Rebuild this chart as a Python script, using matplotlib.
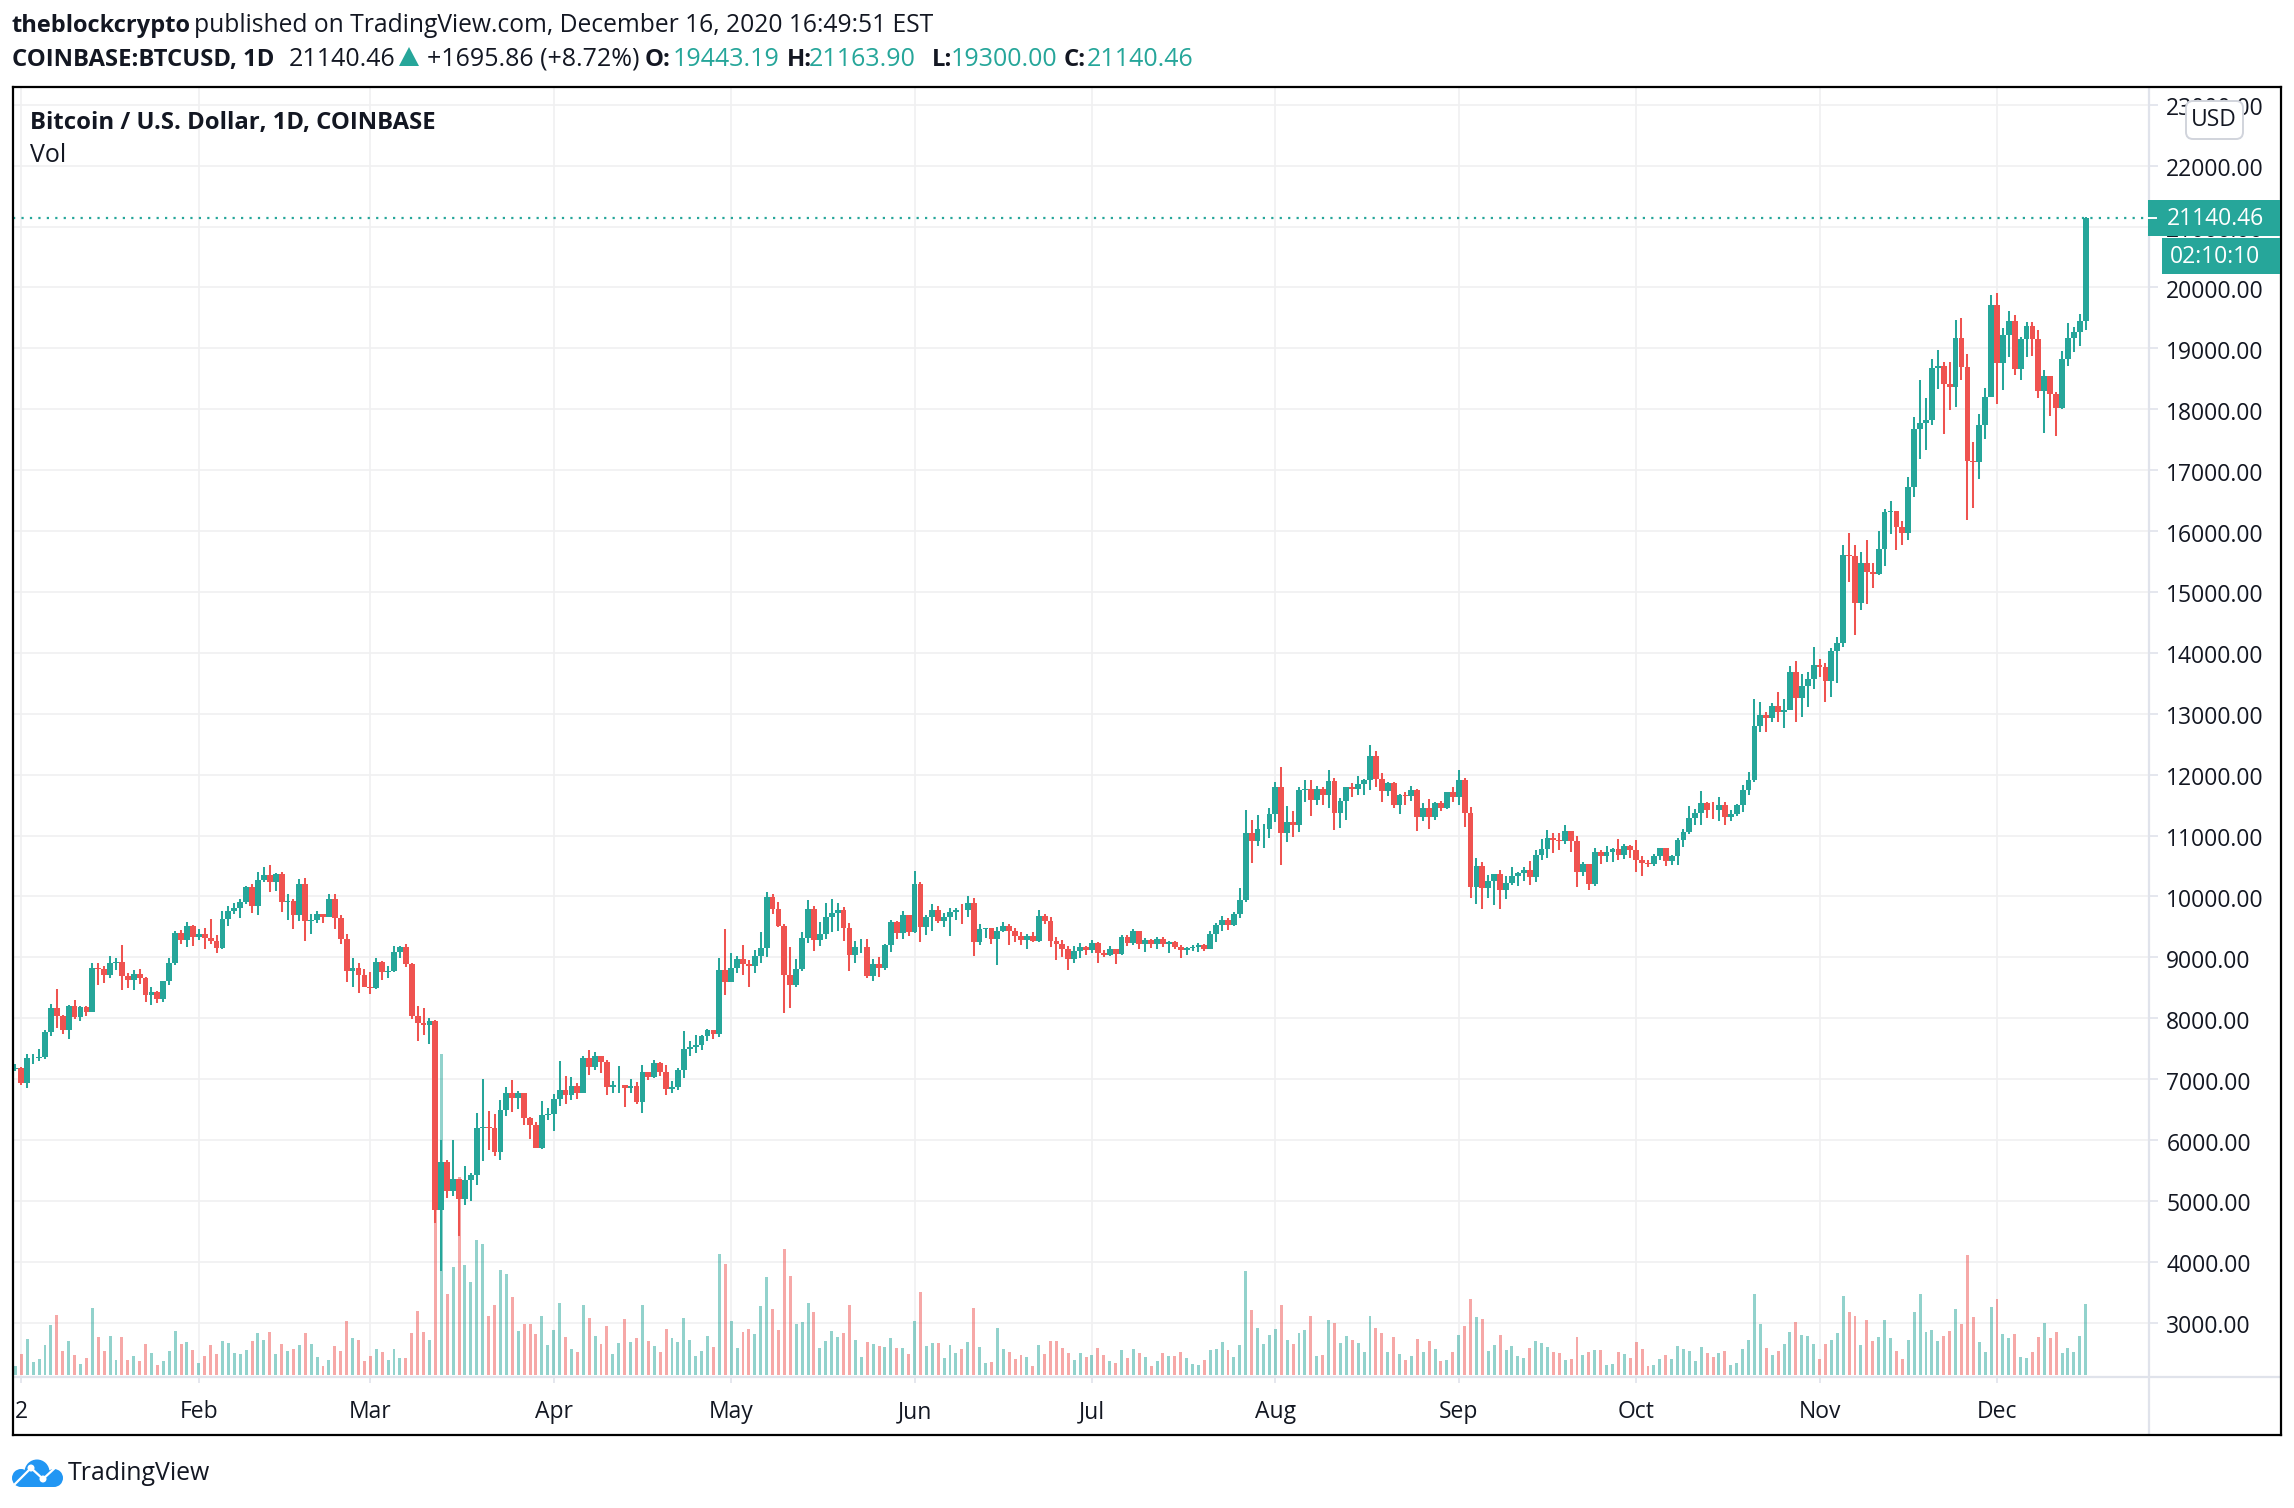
import numpy as np
import matplotlib
matplotlib.use('Agg')
import matplotlib.pyplot as plt
from matplotlib.patches import Circle, FancyBboxPatch, Rectangle, Polygon
from matplotlib.transforms import ScaledTranslation

W, H = 2294, 1508

first_open = 7165
closes = [
    7180,6940,7344,7355,7360,7770,8164,8038,7809,8197,
    8017,8180,8098,8820,8809,8705,8902,8918,8689,8623,
    8721,8656,8377,8426,8312,8607,8902,9393,9279,9508,
    9328,9377,9311,9262,9148,9623,9770,9803,9902,10164,
    9836,10279,10361,10230,10377,9902,9918,9689,10197,9590,
    9607,9705,9656,9967,9639,9295,8770,8820,8705,8508,
    8495,8918,8754,8770,9082,9164,8885,8033,7918,7885,
    7951,4850,5634,5158,5355,5027,5339,5421,6192,6208,
    6192,5798,6487,6766,6684,6766,6356,6241,5864,6405,
    6422,6668,6815,6733,6881,6766,7340,7193,7373,7275,
    6865,6898,6909,6848,6881,6618,7111,7029,7259,7111,
    6832,6865,7144,7489,7521,7554,7702,7800,7735,8797,
    8600,8829,8977,8895,8862,9026,9158,9995,9798,9519,
    8715,8550,8813,9322,9798,9289,9387,9666,9732,9781,
    9486,9043,9174,9174,8698,8895,8829,9207,9584,9404,
    9699,9420,10208,9502,9666,9781,9601,9666,9748,9781,
    9776,9896,9256,9470,9475,9305,9437,9519,9437,9355,
    9289,9355,9272,9683,9601,9272,9223,9141,8977,9108,
    9174,9125,9240,9076,9043,9141,9059,9338,9240,9437,
    9223,9289,9223,9305,9223,9256,9174,9123,9156,9172,
    9205,9139,9385,9533,9615,9533,9713,9943,11043,10911,
    11108,11108,11355,11798,11043,11223,11174,11748,11765,11584,
    11765,11666,11896,11371,11568,11798,11765,11847,11912,12306,
    11929,11732,11863,11502,11666,11650,11748,11305,11453,11305,
    11535,11453,11716,11634,11912,11371,10157,10501,10140,10255,
    10370,10107,10222,10337,10386,10436,10321,10682,10780,10961,
    10928,10911,11076,10911,10403,10534,10206,10731,10665,10731,
    10780,10682,10829,10764,10600,10550,10534,10665,10797,10583,
    10665,10928,11059,11289,11371,11535,11420,11415,11502,11305,
    11355,11502,11748,11912,12803,12985,12926,13132,13032,13056,
    13689,13267,13460,13577,13806,13771,13542,14035,14163,15612,
    15583,14826,15483,15330,15301,15711,16315,16327,16075,15964,
    16726,17682,17781,17822,18684,18713,18420,18373,19177,18702,
    17154,17136,17746,18203,19716,18766,19224,19452,18655,19159,
    19370,19159,18303,18549,18244,18028,18831,19177,19264,19443.19,
    21140.46]
highs = [
    7246,7197,7410,7410,7492,7803,8230,8475,8050,8213,
    8295,8197,8197,8902,8902,8853,9016,8984,9197,8738,
    8787,8803,8672,8508,8443,8607,8984,9426,9443,9574,
    9525,9459,9475,9623,9361,9770,9852,9885,9951,10180,
    10197,10410,10492,10525,10393,10410,10049,9967,10295,10311,
    9705,9770,9705,10033,10033,9689,9377,8984,8902,8803,
    8754,8984,8934,8853,9180,9180,9213,8902,8197,8164,
    8000,7964,5995,5667,5995,5355,5569,5454,6438,6996,
    6471,6422,6652,6865,6980,6799,6766,6372,6290,6635,
    6520,6750,7291,7045,7029,6930,7374,7472,7440,7373,
    7308,6963,7210,6909,6996,6947,7226,7111,7308,7275,
    7226,6963,7177,7784,7620,7718,7718,7817,7800,8994,
    9469,9076,9026,9207,8961,9125,9420,10077,10044,9912,
    9552,9174,8977,9420,9945,9847,9584,9896,9962,9896,
    9830,9568,9272,9305,9305,8977,9010,9223,9617,9600,
    9765,9699,10421,10240,9699,9880,9847,9732,9814,9814,
    9880,10011,9978,9551,9486,9486,9502,9584,9551,9486,
    9420,9387,9420,9781,9716,9666,9338,9289,9190,9190,
    9240,9190,9289,9256,9125,9190,9141,9371,9371,9470,
    9437,9322,9305,9338,9338,9272,9272,9205,9172,9205,
    9238,9221,9435,9566,9681,9648,9746,10140,11420,11256,
    11338,11190,11453,11880,12126,11486,11404,11798,11912,11912,
    11814,11798,12077,11945,11617,11798,11863,11978,11929,12487,
    12388,12027,11880,11880,11683,11716,11814,11765,11535,11600,
    11551,11568,11716,11798,12077,11945,11469,10632,10567,10353,
    10370,10436,10337,10485,10403,10485,10583,10764,10944,11092,
    11043,11043,11174,11076,10994,10567,10534,10797,10764,10830,
    10797,10944,10862,10846,10928,10665,10600,10698,10797,10797,
    10682,10961,11108,11486,11437,11732,11551,11551,11634,11551,
    11420,11518,11830,12044,13249,13196,13032,13184,13360,13249,
    13789,13871,13660,13689,14099,13906,13841,14088,14263,15776,
    15975,15776,15659,15858,15483,16005,16368,16497,16327,16169,
    16890,17875,18485,18192,18831,18977,18778,18778,19470,19505,
    18913,17465,17928,18356,19880,19915,19341,19616,19552,19188,
    19435,19435,19306,18649,18549,18285,18960,19423,19352,19570,
    21163.90]
lows = [
    7131,6907,6853,7246,7295,7328,7705,7836,7738,7656,
    7984,7951,8033,8098,8541,8574,8656,8787,8459,8492,
    8459,8557,8262,8213,8246,8262,8541,8869,9213,9164,
    9180,9279,9131,9213,9066,9131,9508,9705,9639,9869,
    9721,9689,10230,10066,10082,9738,9607,9459,9590,9262,
    9377,9557,9557,9656,9459,9213,8590,8508,8410,8508,
    8393,8475,8623,8656,8754,8984,8836,7984,7623,7721,
    7574,4633,3845,5043,5076,4420,4929,4994,5257,5651,
    5831,5733,5667,6389,6455,6504,6241,6011,5864,5848,
    6323,6142,6553,6586,6652,6668,6766,7062,7144,7095,
    6734,6766,6766,6537,6766,6586,6438,6980,7012,7045,
    6734,6766,6816,7012,7373,7423,7472,7620,7653,7697,
    8386,8600,8747,8715,8518,8747,8911,9010,9716,9502,
    8091,8173,8518,8780,9240,9108,9190,9305,9420,9437,
    9272,8780,8911,9076,8665,8605,8682,8797,9092,9305,
    9305,9355,9404,9256,9371,9437,9568,9502,9355,9617,
    9551,9666,9026,9207,9322,9223,8879,9420,9207,9256,
    9207,9141,9256,9256,9551,9174,8961,9010,8797,8911,
    8994,9043,9076,8911,9010,9026,8895,9043,9190,9207,
    9141,9092,9158,9141,9174,9076,9141,8992,9041,9106,
    9090,9106,9139,9254,9435,9451,9517,9648,9910,10550,
    10829,10797,10961,11223,10518,10895,10977,11059,11551,11322,
    11502,11502,11453,11092,11125,11256,11634,11666,11666,11748,
    11798,11551,11650,11453,11355,11502,11568,11076,11240,11108,
    11256,11404,11437,11551,11502,11141,9976,9878,9796,9976,
    9861,9796,9960,10189,10173,10255,10189,10239,10600,10632,
    10715,10764,10862,10731,10157,10337,10107,10173,10534,10567,
    10567,10600,10616,10632,10403,10337,10485,10501,10600,10501,
    10517,10517,10813,11026,11174,11174,11289,11273,11240,11174,
    11240,11322,11387,11666,11885,12698,12704,12868,12868,12774,
    13056,12868,12950,13114,13413,13607,13196,13278,13513,14099,
    15166,14299,14709,14809,15072,15284,15430,15958,15694,15776,
    15858,16562,17189,17336,17746,18338,17600,17992,18039,18485,
    16187,16386,16861,17517,18203,18092,18321,18860,18567,18485,
    18860,18877,18192,17617,17893,17564,18010,18713,18942,19042,
    19300]
# volume, relative units
volumes = [
    27,63,108,39,48,90,150,180,72,102,
    60,33,51,201,114,72,117,45,114,45,
    57,42,93,66,30,42,72,132,93,99,
    75,36,57,90,63,102,96,66,63,75,
    102,126,105,129,63,93,72,78,90,126,
    93,54,27,45,87,72,162,111,105,42,
    57,78,69,45,78,51,51,126,192,129,
    105,700,963,243,324,594,330,279,405,393,
    177,210,315,303,234,132,153,153,123,177,
    90,135,216,114,78,69,210,171,117,93,
    147,63,96,168,99,111,210,102,87,69,
    138,111,99,171,105,57,72,117,84,363,
    333,162,81,129,138,123,207,294,198,135,
    378,297,153,159,216,189,81,102,132,114,
    126,210,105,54,99,93,87,84,111,81,
    81,63,162,249,87,96,96,51,90,66,
    78,99,201,84,36,39,141,78,69,48,
    60,54,27,90,63,102,102,81,66,45,
    66,54,60,81,60,42,36,75,51,78,
    66,54,27,42,66,57,57,69,51,33,
    30,45,75,78,99,75,54,90,312,195,
    141,93,120,138,210,105,93,126,135,177,
    57,60,165,156,96,117,105,96,69,177,
    141,126,69,114,63,45,57,108,69,102,
    78,42,45,69,120,147,228,174,168,72,
    90,120,75,87,57,51,81,102,96,84,
    69,66,45,48,114,60,69,75,75,30,
    33,69,63,51,99,78,27,30,48,60,
    48,87,78,72,42,84,66,54,66,72,
    30,36,78,105,243,153,81,60,72,93,
    129,159,120,117,93,48,93,105,126,237,
    189,177,90,165,102,114,165,111,72,48,
    105,189,243,129,135,102,117,132,198,153,
    360,174,99,69,204,228,123,111,123,54,
    51,69,114,156,111,129,66,81,69,117,
    213]

price_ticks = list(range(3000, 24000, 1000))
# day index (0 = Jan 1), label
month_pos = [1, 31, 60, 91, 121, 152, 182, 213, 244, 274, 305, 335]
month_labels = ['2', 'Feb', 'Mar', 'Apr', 'May', 'Jun', 'Jul', 'Aug', 'Sep', 'Oct', 'Nov', 'Dec']

UP = '#26a69a'
DOWN = '#ef5350'
INK = '#131722'
GRID = '#f0f0f1'
SEP = '#e0e3eb'

plt.rcParams['font.family'] = ['Open Sans', 'DejaVu Sans']

closes = np.array(closes, dtype=float)
highs = np.array(highs, dtype=float)
lows = np.array(lows, dtype=float)
volumes = np.array(volumes, dtype=float)
opens = np.concatenate([[first_open], closes[:-1]])
days = np.arange(len(closes))
colors = [UP if c >= o else DOWN for o, c in zip(opens, closes)]

fig = plt.figure(figsize=(W / 100, H / 100), dpi=100, facecolor='white')


def box(x0, y0, x1, y1):
    return [x0 / W, 1 - y1 / H, (x1 - x0) / W, (y1 - y0) / H]


def put(x, y, s, **kw):
    kw.setdefault('color', INK)
    kw.setdefault('fontsize', 18)
    return fig.text(x / W, 1 - y / H, s, va='baseline', **kw)


ax = fig.add_axes(box(13, 87, 2149, 1377))
ax.set_xlim(-0.41, 360.7)
ax.set_ylim(2110, 23292)

ax.set_axisbelow(True)
ax.grid(True, color=GRID, lw=1.2)
ax.set_xticks(month_pos)
ax.set_xticklabels(month_labels, fontsize=16.5, color=INK)
ax.set_yticks(price_ticks)
ax.set_yticklabels(['%.2f' % t for t in price_ticks], fontsize=16.5, color=INK)
ax.yaxis.tick_right()
ax.tick_params(axis='y', length=6.5, width=1.2, color=SEP, pad=6)
ax.tick_params(axis='x', length=4.5, width=1.2, color=SEP, pad=12)
nudge = ScaledTranslation(0, -1.5 / 100, fig.dpi_scale_trans)
for lbl in ax.get_yticklabels():
    lbl.set_transform(lbl.get_transform() + nudge)
for name in ['top', 'left', 'right', 'bottom']:
    ax.spines[name].set_visible(False)

# volume sits on the price scale, pinned to the bottom of the pane
vol_base = 2143
vol_scale = 5.473
ax.bar(days, volumes * vol_scale, bottom=vol_base, width=0.5, color=colors, alpha=0.5, lw=0, zorder=2)

ax.vlines(days, lows, highs, colors=colors, lw=1.45, zorder=3)
ax.bar(days, np.abs(closes - opens), bottom=np.minimum(opens, closes), width=0.98,
       color=colors, lw=0, zorder=4)

ax.axhline(closes[-1], color=UP, lw=1.6, ls=(0, (1, 2.8)), zorder=3)

# outer black frame, with the price and time scale separators inside it
frame = fig.add_axes(box(13, 87, 2281, 1435), facecolor='none')
frame.set_xlim(13, 2281)
frame.set_ylim(1435, 87)
frame.set_xticks([])
frame.set_yticks([])
frame.axvline(2149, color=SEP, lw=1.6, zorder=0)
frame.axhline(1377, color=SEP, lw=1.6, zorder=0)
for s in frame.spines.values():
    s.set_linewidth(1.6)
    s.set_color('black')

# overlays on the price scale
over = fig.add_axes([0, 0, 1, 1], facecolor='none')
over.set_xlim(0, W)
over.set_ylim(H, 0)
over.axis('off')
over.add_patch(Rectangle((2148, 200), 132, 36, color=UP, lw=0))
over.plot([2148, 2156], [218, 218], color='white', lw=1.4)
over.add_patch(Rectangle((2162, 238), 118, 36, color=UP, lw=0))
over.add_patch(FancyBboxPatch((2188, 103), 53, 34, boxstyle='round,pad=2,rounding_size=7',
                              fc='white', ec='#d1d4dc', lw=1.4))
over.text(2214, 120, 'USD', ha='center', va='center', fontsize=16.5, color=INK)
over.text(2167, 219, '21140.46', va='center', fontsize=16.5, color='white')
over.text(2170, 257, '02:10:10', va='center', fontsize=16.5, color='white')

# header
put(12, 32, 'theblockcrypto', fontweight='bold', fontsize=17)
put(194, 32, 'published on TradingView.com, December 16, 2020 16:49:51 EST', fontsize=17.7)
put(12, 66, 'COINBASE:BTCUSD, 1D', fontweight='bold', fontsize=17.2)
put(289, 66, '21140.46')
over.add_patch(Polygon([(399, 66), (419, 66), (409, 47)], color=UP, lw=0))
put(427, 66, '+1695.86 (+8.72%)')
for x, label, vx, val in [(645, 'O:', 673, '19443.19'), (787, 'H:', 809, '21163.90'),
                          (932, 'L:', 951, '19300.00'), (1064, 'C:', 1087, '21140.46')]:
    put(x, 66, label, fontweight='bold', fontsize=17.2)
    put(vx, 66, val, color=UP)

put(30, 129, 'Bitcoin / U.S. Dollar, 1D, COINBASE', fontweight='bold', fontsize=17.2)
put(30, 162, 'Vol', fontsize=18)

# logo
blue = '#2196f3'
for cx, cy, r in [(37, 1472, 12.5), (21, 1478, 9), (54, 1478, 9)]:
    over.add_patch(Circle((cx, cy), r, color=blue, lw=0))
over.add_patch(Rectangle((21, 1475), 33, 12, color=blue, lw=0))
over.plot([15, 31, 43, 56], [1484, 1468, 1479, 1467], color='white', lw=1.6)
for cx, cy in [(31, 1468), (43, 1479)]:
    over.add_patch(Circle((cx, cy), 3.5, color='white', lw=0))
put(68, 1480, 'TradingView', fontsize=17.9)

fig.savefig('out.png', dpi=100)
